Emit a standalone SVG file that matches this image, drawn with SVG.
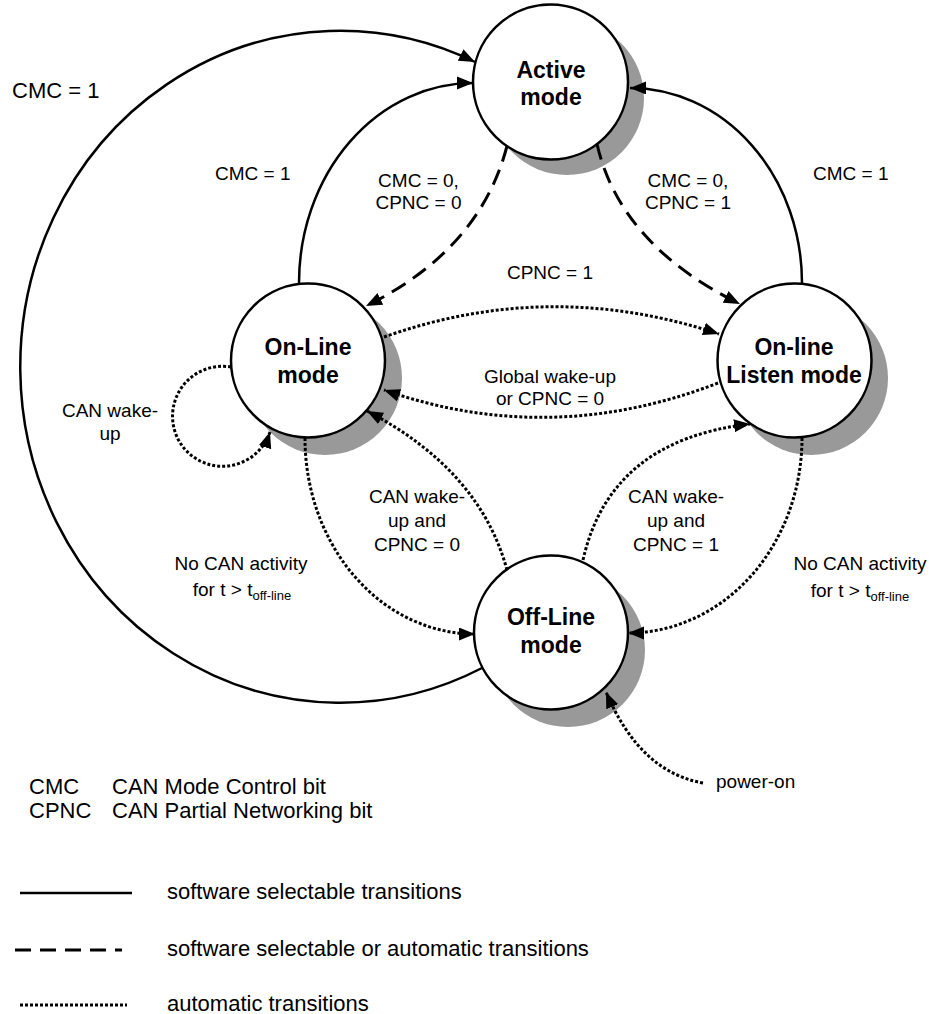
<svg xmlns="http://www.w3.org/2000/svg" width="929" height="1014" viewBox="0 0 929 1014">
  <style>
    text { font-family: "Liberation Sans", Arial, sans-serif; fill: #000; }
    .lbl { font-size: 19px; }
    .big { font-size: 22px; }
    .node text { font-size: 23px; font-weight: bold; text-anchor: middle; }
    .shadow { fill: #999999; stroke: none; }
    .disc { fill: #ffffff; stroke: #000; stroke-width: 2.5; }
    .solid { fill: none; stroke: #000; stroke-width: 2.5; }
    .dash { fill: none; stroke: #000; stroke-width: 3; stroke-dasharray: 16 9; }
    .dot { fill: none; stroke: #000; stroke-width: 3; stroke-dasharray: 3 2; }
    .mid { text-anchor: middle; }
  </style>
  <defs>
    <marker id="arrow" markerUnits="userSpaceOnUse" markerWidth="18" markerHeight="14" refX="16" refY="6.5" orient="auto">
      <path d="M0,0 L16,6.5 L0,13 z" fill="#000"/>
    </marker>
  </defs>

  <rect width="929" height="1014" fill="#ffffff"/>

  <!-- drop shadows behind the states -->
  <g id="shadows">
    <circle class="shadow" cx="567" cy="98" r="77"/>
    <circle class="shadow" cx="325" cy="378" r="77"/>
    <circle class="shadow" cx="811" cy="378" r="77"/>
    <circle class="shadow" cx="568" cy="650" r="77"/>
  </g>

  <!-- transitions -->
  <g id="connectors">
    <!-- Off-Line -> Active (CMC = 1) -->
    <path class="solid" d="M 482 668 A 320 336 0 1 1 475 62" marker-end="url(#arrow)"/>
    <!-- On-Line -> Active (CMC = 1) -->
    <path class="solid" d="M 299 283 A 174 200 0 0 1 473 83" marker-end="url(#arrow)"/>
    <!-- Listen -> Active (CMC = 1) -->
    <path class="solid" d="M 802 283 A 172 195 0 0 0 630 88" marker-end="url(#arrow)"/>
    <!-- Active -> On-Line -->
    <path class="dash" d="M 507 146 Q 480 250 366 306" marker-end="url(#arrow)"/>
    <!-- Active -> Listen -->
    <path class="dash" d="M 597 144 Q 620 245 740 304" marker-end="url(#arrow)"/>
    <!-- On-Line -> Listen -->
    <path class="dot" d="M 384 337 Q 550 278 719 334" marker-end="url(#arrow)"/>
    <!-- Listen -> On-Line -->
    <path class="dot" d="M 718 383 Q 550 448 384 390" marker-end="url(#arrow)"/>
    <!-- On-Line self loop -->
    <path class="dot" d="M 231 367 A 50 50 0 1 0 270 432" marker-end="url(#arrow)"/>
    <!-- On-Line -> Off-Line -->
    <path class="dot" d="M 305 438 A 170 196 0 0 0 475 634" marker-end="url(#arrow)"/>
    <!-- Listen -> Off-Line -->
    <path class="dot" d="M 802 438 A 174 195 0 0 1 628 633" marker-end="url(#arrow)"/>
    <!-- Off-Line -> On-Line -->
    <path class="dot" d="M 507 570 Q 480 470 367 411" marker-end="url(#arrow)"/>
    <!-- Off-Line -> Listen -->
    <path class="dot" d="M 583 560 Q 610 440 750 424" marker-end="url(#arrow)"/>
    <!-- power-on -->
    <path class="dot" d="M 703 783 Q 640 772 606 692" marker-end="url(#arrow)"/>
  </g>

  <!-- states -->
  <g id="active" class="node">
    <circle class="disc" cx="550.5" cy="82" r="77.5"/>
    <text x="551" y="78">Active</text>
    <text x="551" y="105">mode</text>
  </g>
  <g id="online" class="node">
    <circle class="disc" cx="308" cy="360.5" r="77"/>
    <text x="308" y="355">On-Line</text>
    <text x="308" y="383">mode</text>
  </g>
  <g id="listen" class="node">
    <circle class="disc" cx="794.5" cy="360.5" r="77"/>
    <text x="794" y="355">On-line</text>
    <text x="794" y="383">Listen mode</text>
  </g>
  <g id="offline" class="node">
    <circle class="disc" cx="551" cy="632.5" r="77"/>
    <text x="551" y="625">Off-Line</text>
    <text x="551" y="653">mode</text>
  </g>

  <!-- transition labels -->
  <g id="labels">
    <text class="big" x="12" y="98">CMC = 1</text>
    <text class="lbl" x="215" y="180">CMC = 1</text>
    <text class="lbl mid" x="418.5" y="187">CMC = 0,</text>
    <text class="lbl mid" x="418.5" y="209">CPNC = 0</text>
    <text class="lbl mid" x="688" y="187">CMC = 0,</text>
    <text class="lbl mid" x="688" y="209">CPNC = 1</text>
    <text class="lbl" x="813" y="180">CMC = 1</text>
    <text class="lbl mid" x="550" y="279">CPNC = 1</text>
    <text class="lbl mid" x="550" y="383">Global wake-up</text>
    <text class="lbl mid" x="550" y="405">or CPNC = 0</text>
    <text class="lbl mid" x="110" y="417">CAN wake-</text>
    <text class="lbl mid" x="110" y="440">up</text>
    <text class="lbl mid" x="417" y="503">CAN wake-</text>
    <text class="lbl mid" x="417" y="527">up and</text>
    <text class="lbl mid" x="417" y="551">CPNC = 0</text>
    <text class="lbl mid" x="676" y="503">CAN wake-</text>
    <text class="lbl mid" x="676" y="527">up and</text>
    <text class="lbl mid" x="676" y="551">CPNC = 1</text>
    <text class="lbl mid" x="241" y="570">No CAN activity</text>
    <text class="lbl mid" x="242" y="596">for t &gt; t<tspan font-size="13" dy="4">off-line</tspan></text>
    <text class="lbl mid" x="860" y="570">No CAN activity</text>
    <text class="lbl mid" x="860" y="597">for t &gt; t<tspan font-size="13" dy="4">off-line</tspan></text>
    <text class="lbl" x="716" y="788">power-on</text>
  </g>

  <!-- abbreviations and line-style key -->
  <g id="legend">
    <text class="big" x="29" y="794">CMC</text>
    <text class="big" x="112" y="794">CAN Mode Control bit</text>
    <text class="big" x="29" y="818">CPNC</text>
    <text class="big" x="112" y="818">CAN Partial Networking bit</text>
    <line class="solid" x1="20" y1="893" x2="132" y2="893"/>
    <text class="big" x="167" y="899">software selectable transitions</text>
    <line class="dash" x1="15" y1="950" x2="122" y2="950" stroke-dasharray="20 9"/>
    <text class="big" x="167" y="956">software selectable or automatic transitions</text>
    <line class="dot" x1="20" y1="1005" x2="127" y2="1005"/>
    <text class="big" x="167" y="1011">automatic transitions</text>
  </g>
</svg>
